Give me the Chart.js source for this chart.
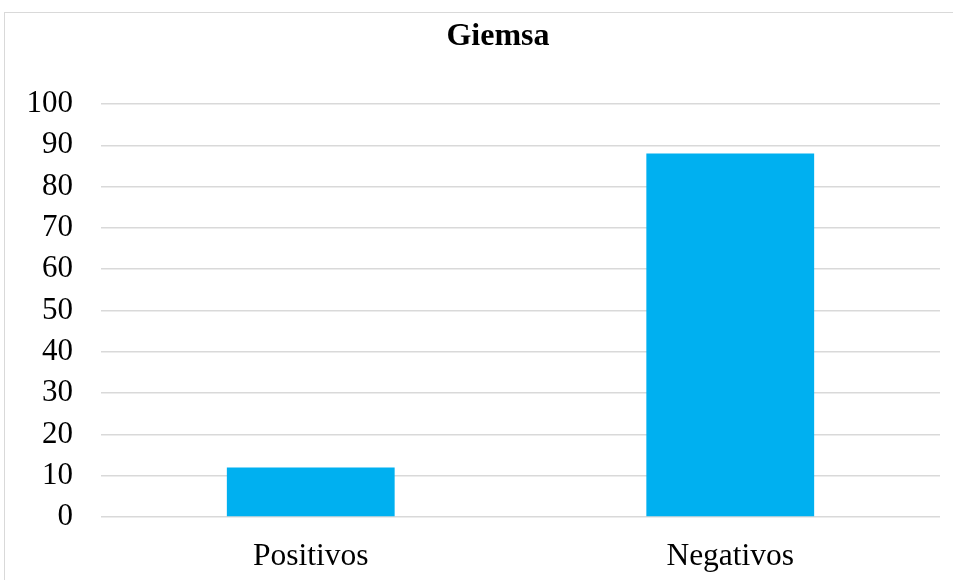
<!DOCTYPE html>
<html>
<head>
<meta charset="utf-8">
<script src="https://cdn.jsdelivr.net/npm/chart.js@4/dist/chart.umd.min.js"></script>
<style>
    html, body { margin: 0; padding: 0; background: #fff; overflow: hidden; }
    #frame {
        position: absolute; left: 4px; top: 12px;
        width: 1000px; height: 600px;
        border: 1px solid #d9d9d9;
        pointer-events: none;
    }
    #giemsaChart { position: absolute; left: 0; top: 0; }
</style>
</head>
<body>
<canvas id="giemsaChart" width="996" height="580"></canvas>
<div id="frame"></div>
<script>
const categories = ['Positivos', 'Negativos'];
const values = [12, 88];
const yTicks = { min: 0, max: 100, step: 10 };
const chartTitle = 'Giemsa';

const serif = '"Liberation Serif", "Times New Roman", serif';

const ctx = document.getElementById('giemsaChart').getContext('2d');
const config = {
    type: 'bar',
    data: {
        labels: categories,
        datasets: [{
            label: chartTitle,
            data: values,
            backgroundColor: '#00b0f0',
            borderWidth: 0,
            categoryPercentage: 1,
            barPercentage: 0.4
        }]
    },
    options: {
        responsive: false,
        animation: false,
        layout: {
            padding: 0
        },
        plugins: {
            legend: { display: false },
            tooltip: { enabled: false },
            title: {
                display: true,
                text: chartTitle,
                color: '#000',
                font: { family: serif, size: 32, weight: 'bold', lineHeight: 1.2 },
                padding: { top: 18, bottom: 47.6 }
            }
        },
        scales: {
            x: {
                grid: { display: false },
                border: { display: false },
                ticks: {
                    color: '#000',
                    font: { family: serif, size: 31.5 },
                    padding: 13
                },
                afterFit: function (scale) {
                    scale.height = 63;
                }
            },
            y: {
                min: yTicks.min,
                max: yTicks.max,
                grid: { color: '#d9d9d9', lineWidth: 1.5, drawTicks: false },
                border: { display: false },
                ticks: {
                    stepSize: yTicks.step,
                    color: '#000',
                    font: { family: serif, size: 31 },
                    padding: 28
                },
                afterFit: function (scale) {
                    scale.width = 101;
                }
            },
            // empty right-hand spacer so the plot stops at the right gridline end
            spacer: {
                type: 'linear',
                position: 'right',
                grid: { display: false },
                border: { display: false },
                ticks: { display: false },
                afterFit: function (scale) {
                    scale.width = 56;
                }
            }
        }
    }
};
const myChart = new Chart(ctx, config);
</script>
</body>
</html>
